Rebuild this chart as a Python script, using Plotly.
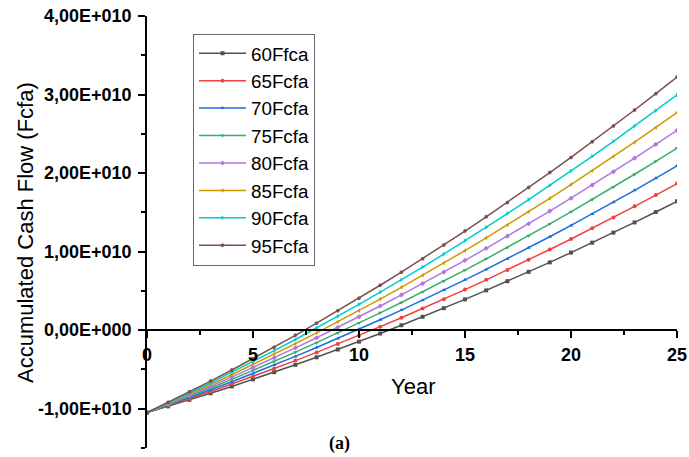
import plotly.graph_objects as go

years = list(range(26))

# Accumulated cash flow, in units of 1E+10 Fcfa
s60 = [-1.05, -0.970, -0.887, -0.803, -0.716, -0.626, -0.535, -0.441, -0.345, -0.246, -0.146, -0.043, 0.063,
       0.170, 0.280, 0.392, 0.507, 0.624, 0.743, 0.864, 0.988, 1.114, 1.242, 1.372, 1.505, 1.640]
s65 = [-1.05, -0.963, -0.873, -0.781, -0.686, -0.589, -0.489, -0.387, -0.283, -0.176, -0.067, 0.045, 0.159,
       0.276, 0.395, 0.517, 0.641, 0.767, 0.896, 1.027, 1.161, 1.297, 1.436, 1.577, 1.720, 1.866]
s70 = [-1.05, -0.955, -0.858, -0.759, -0.656, -0.551, -0.444, -0.334, -0.221, -0.106, 0.012, 0.133, 0.256,
       0.382, 0.510, 0.641, 0.774, 0.910, 1.049, 1.190, 1.334, 1.480, 1.629, 1.781, 1.935, 2.092]
s75 = [-1.05, -0.948, -0.844, -0.736, -0.626, -0.514, -0.398, -0.280, -0.159, -0.035, 0.091, 0.221, 0.353,
       0.487, 0.625, 0.765, 0.908, 1.054, 1.202, 1.353, 1.507, 1.664, 1.823, 1.985, 2.150, 2.318]
s80 = [-1.05, -0.941, -0.829, -0.714, -0.597, -0.476, -0.353, -0.226, -0.097, 0.035, 0.170, 0.308, 0.449,
       0.593, 0.740, 0.889, 1.042, 1.197, 1.355, 1.516, 1.680, 1.847, 2.017, 2.190, 2.366, 2.544]
s85 = [-1.05, -0.934, -0.815, -0.692, -0.567, -0.438, -0.307, -0.172, -0.035, 0.106, 0.249, 0.396, 0.546,
       0.699, 0.855, 1.013, 1.175, 1.340, 1.508, 1.679, 1.854, 2.031, 2.211, 2.394, 2.581, 2.770]
s90 = [-1.05, -0.927, -0.800, -0.670, -0.537, -0.401, -0.261, -0.119, 0.027, 0.176, 0.328, 0.484, 0.642,
       0.804, 0.969, 1.138, 1.309, 1.484, 1.662, 1.843, 2.027, 2.214, 2.405, 2.599, 2.796, 2.996]
s95 = [-1.05, -0.919, -0.785, -0.648, -0.507, -0.363, -0.216, -0.065, 0.089, 0.247, 0.407, 0.572, 0.739,
       0.910, 1.084, 1.262, 1.443, 1.627, 1.815, 2.006, 2.200, 2.398, 2.599, 2.803, 3.011, 3.222]

series_names = ["60Ffca", "65Fcfa", "70Fcfa", "75Fcfa", "80Fcfa", "85Fcfa", "90Fcfa", "95Fcfa"]
series_values = [s60, s65, s70, s75, s80, s85, s90, s95]
colors = ["#515151", "#F14040", "#1A6FDF", "#37AD6B", "#B177DE", "#CC9900", "#00CBCC", "#7D4E4E"]
symbols = ["square", "circle", "triangle-up", "triangle-down", "diamond", "triangle-left",
           "triangle-right", "hexagon"]

y_tickvals = [-1e10, 0, 1e10, 2e10, 3e10, 4e10]
y_ticktext = ["-1,00E+010", "0,00E+000", "1,00E+010", "2,00E+010", "3,00E+010", "4,00E+010"]
x_tickvals = [0, 5, 10, 15, 20, 25]
x_ticktext = ["0", "5", "10", "15", "20", "25"]

Y_MIN, Y_MAX = -1.5e10, 4e10

fig = go.Figure()
for name, vals, c, sym in zip(series_names, series_values, colors, symbols):
    fig.add_trace(go.Scatter(
        x=years, y=[v * 1e10 for v in vals], name=name, mode="lines+markers",
        line=dict(color=c, width=1.5),
        marker=dict(symbol=sym, size=4, color=c),
    ))

tickfont = dict(family="Liberation Sans, Arial", size=18, color="black", weight="bold")

fig.update_layout(
    width=689, height=457,
    margin=dict(l=147, r=12, t=16, b=9),
    paper_bgcolor="white", plot_bgcolor="white",
    showlegend=True,
    legend=dict(
        x=(193 - 147) / 530, y=(448 - 33.5) / 432, xanchor="left", yanchor="top",
        bgcolor="white", bordercolor="#666666", borderwidth=1,
        font=dict(family="Liberation Sans, Arial", size=18.8, color="black"),
        itemwidth=47, tracegroupgap=0,
    ),
    xaxis=dict(
        range=[0, 25], anchor="free", position=(0 - Y_MIN) / (Y_MAX - Y_MIN),
        automargin=False,
        showline=True, linecolor="black", linewidth=1.5,
        ticks="outside", ticklen=7, tickwidth=1.5, tickcolor="black",
        tickvals=x_tickvals, ticktext=x_ticktext, tickfont=tickfont,
        ticklabelstandoff=1,
        minor=dict(ticks="outside", ticklen=4, tickwidth=1.5, tickcolor="black",
                   tickvals=[2.5, 7.5, 12.5, 17.5, 22.5]),
        showgrid=False, zeroline=False,
    ),
    yaxis=dict(
        range=[Y_MIN, Y_MAX], automargin=False,
        showline=True, linecolor="black", linewidth=1.5,
        ticks="outside", ticklen=7, tickwidth=1.5, tickcolor="black",
        tickvals=y_tickvals, ticktext=y_ticktext, tickfont=tickfont,
        ticklabelstandoff=3,
        minor=dict(ticks="outside", ticklen=4, tickwidth=1.5, tickcolor="black",
                   tickvals=[-1.5e10, -0.5e10, 0.5e10, 1.5e10, 2.5e10, 3.5e10]),
        showgrid=False, zeroline=False,
    ),
    annotations=[
        dict(text="Accumulated Cash Flow (Fcfa)", textangle=-90, xref="paper", yref="paper",
             x=(25 - 147) / 530, y=(448 - 233) / 432, xanchor="center", yanchor="middle",
             showarrow=False, font=dict(family="Liberation Sans, Arial", size=22, color="black")),
        dict(text="Year", xref="paper", yref="paper",
             x=(413 - 147) / 530, y=(448 - 386.5) / 432, xanchor="center", yanchor="middle",
             showarrow=False, font=dict(family="Liberation Sans, Arial", size=22, color="black")),
        dict(text="(a)", xref="paper", yref="paper",
             x=(339 - 147) / 530, y=(448 - 443) / 432, xanchor="center", yanchor="middle",
             showarrow=False, font=dict(family="Liberation Serif, Times New Roman", size=18,
                                        color="black", weight="bold")),
    ],
)

fig.write_html(
    "out.html",
    config={"displayModeBar": False},
    post_script="document.body.style.margin='0px'; document.body.style.overflow='hidden';",
)
